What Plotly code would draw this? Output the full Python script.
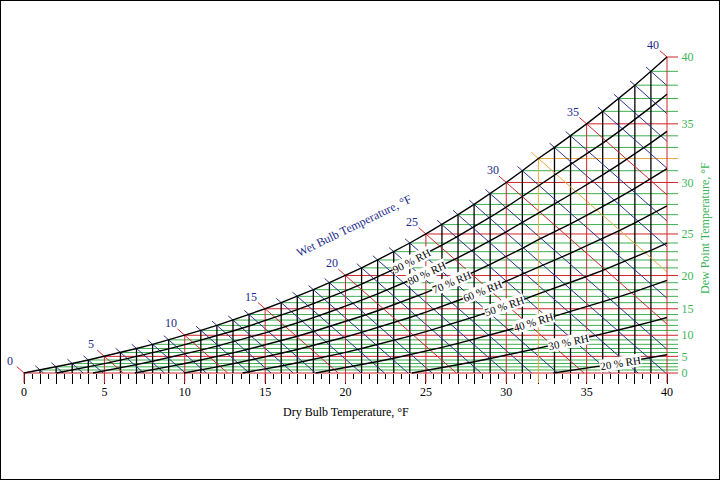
import numpy as np
import plotly.graph_objects as go

# saturation humidity ratio (lb water / lb dry air) for each whole degree F,
# read off the dew point scale on the right (0 F at the bottom line, 40 F at the top)
dew_point_f = list(range(0, 41))
sat_humidity = [
    0.000784, 0.000826, 0.000870, 0.000917, 0.000965, 0.001016, 0.001070, 0.001126,
    0.001184, 0.001246, 0.001310, 0.001378, 0.001448, 0.001522, 0.001599, 0.001680,
    0.001765, 0.001853, 0.001946, 0.002043, 0.002144, 0.002250, 0.002360, 0.002476,
    0.002597, 0.002723, 0.002854, 0.002992, 0.003135, 0.003285, 0.003441, 0.003605,
    0.003775, 0.003930, 0.004092, 0.004259, 0.004433, 0.004612, 0.004798, 0.004991,
    0.005191,
]

dry_bulb_labels = [0, 5, 10, 15, 20, 25, 30, 35, 40]
wet_bulb_labels = [0, 5, 10, 15, 20, 25, 30, 35, 40]
dew_point_labels = [0, 5, 10, 15, 20, 25, 30, 35, 40]
rh_levels = [90, 80, 70, 60, 50, 40, 30, 20]
rh_label_x = [24.1, 25.05, 26.6, 28.5, 29.9, 31.7, 33.85, 37.1]

FONT = "Liberation Serif, Times New Roman, serif"
RED = "#d0262b"
ORANGE = "#e9a945"
GREEN = "#3bb04f"
BLUE = "#2a3590"
NAVY = "#1c2a8c"
LABEL_GREEN = "#3cb458"

W_MIN, W_MAX = sat_humidity[0], sat_humidity[-1]

# page geometry: 0..40 F spans px 24..667, W_MIN..W_MAX spans px 373..57
sx = 643 / 40.0
sy = 316 / (W_MAX - W_MIN)
x_range = [-24 / sx, 696 / sx]
y_range = [W_MIN - 107 / sy, W_MAX + 57 / sy]


def pick(v, default):
    if v == 32:
        return ORANGE
    if v % 5 == 0:
        return RED
    return default


def wet_bulb_w(wb, t):
    # humidity ratio along a constant wet bulb line (ASHRAE, IP units, ice form)
    ws = sat_humidity[wb]
    return ((1220 - 0.04 * wb) * ws - 0.240 * (t - wb)) / (1220 + 0.444 * t - 0.48 * wb)


def wet_bulb_end(wb):
    ws = sat_humidity[wb]
    t = ((1220 - 0.04 * wb) * ws + 0.24 * wb - W_MIN * (1220 - 0.48 * wb)) / (0.24 + 0.444 * W_MIN)
    return max(wb, min(t, 40))


groups = {}


def seg(key, xs, ys):
    g = groups.setdefault(key, ([], []))
    g[0].extend(list(xs) + [None])
    g[1].extend(list(ys) + [None])


right_ext = 40 + 11 / sx
tick_drop = W_MIN - 10 / sy

# dew point lines (horizontal)
for d in dew_point_f:
    seg(("dp", pick(d, GREEN)), [d, right_ext], [sat_humidity[d], sat_humidity[d]])

# dry bulb lines (vertical)
for t in dew_point_f:
    c = pick(t, "black")
    if c == "black":
        seg(("db", c), [t, t], [W_MIN, sat_humidity[t]])
    else:
        seg(("db2", c), [t, t], [tick_drop, sat_humidity[t]])

# wet bulb lines (diagonal)
for wb in dew_point_f:
    c = pick(wb, BLUE)
    stub = 0.3 if c == BLUE else 0.45
    t0, t1 = wb - stub, wet_bulb_end(wb)
    seg(("wb", c), [t0, t1], [wet_bulb_w(wb, t0), wet_bulb_w(wb, t1)])

fig = go.Figure()

order = [("dp", GREEN), ("dp", ORANGE), ("dp", RED), ("db", "black"),
         ("wb", BLUE), ("wb", ORANGE), ("wb", RED), ("db2", ORANGE), ("db2", RED)]
for key in order:
    if key not in groups:
        continue
    xs, ys = groups[key]
    width = 1.3 if key[1] == "black" else 1.0
    fig.add_trace(go.Scatter(x=xs, y=ys, mode="lines", hoverinfo="skip",
                             line=dict(color=key[1], width=width)))

# relative humidity curves
sat = np.array(sat_humidity)
for rh in rh_levels:
    w = sat * rh / 100.0
    i = int(np.argmax(w >= W_MIN))
    t0 = i - 1 + (W_MIN - w[i - 1]) / (w[i] - w[i - 1])
    fig.add_trace(go.Scatter(x=[t0] + dew_point_f[i:], y=[W_MIN] + list(w[i:]),
                             mode="lines", hoverinfo="skip",
                             line=dict(color="black", width=1.4)))

# saturation curve
fig.add_trace(go.Scatter(x=dew_point_f, y=sat_humidity, mode="lines", hoverinfo="skip",
                         line=dict(color="black", width=1.4)))

annotations = []
for rh, lx in zip(rh_levels, rh_label_x):
    i = int(lx)
    ly = rh / 100.0 * np.interp(lx, dew_point_f, sat_humidity)
    slope = rh / 100.0 * (sat_humidity[i + 1] - sat_humidity[i])
    ang = -np.degrees(np.arctan(slope * sy / sx))
    annotations.append(dict(x=lx, y=ly, text=f"{rh} % RH", showarrow=False, textangle=ang,
                            bgcolor="white", borderpad=0,
                            font=dict(family=FONT, size=11, color="black")))

for wb in wet_bulb_labels:
    lx = wb - 0.85
    annotations.append(dict(x=lx, y=wet_bulb_w(wb, lx), text=str(wb), showarrow=False,
                            font=dict(family=FONT, size=12, color=NAVY)))

annotations += [
    dict(x=20, y=1 - 412 / 480, yref="paper", xanchor="center", yanchor="middle",
         text="Dry Bulb Temperature, °F", showarrow=False,
         font=dict(family=FONT, size=12, color="black")),
    dict(x=20.5, y=1 - 226 / 480, yref="paper", xanchor="center", yanchor="middle",
         text="Wet Bulb Temperature, °F", showarrow=False,
         textangle=-26, font=dict(family=FONT, size=12, color=NAVY)),
    dict(x=705 / 720, y=1 - 228 / 480, xref="paper", yref="paper", xanchor="center",
         yanchor="middle", text="Dew Point Temperature, °F",
         showarrow=False, textangle=-90, font=dict(family=FONT, size=12, color=LABEL_GREEN)),
]

fig.update_layout(
    width=720, height=480,
    margin=dict(l=0, r=0, t=0, b=0, pad=0),
    paper_bgcolor="white", plot_bgcolor="white",
    showlegend=False,
    annotations=annotations,
    shapes=[dict(type="rect", xref="paper", yref="paper", x0=0, y0=0, x1=1, y1=1,
                 line=dict(color="black", width=2))],
    xaxis=dict(range=x_range, anchor="free", position=107 / 480, showgrid=False,
               zeroline=False, showline=False, automargin=False, layer="below traces",
               tickmode="array", tickvals=dew_point_f,
               ticktext=[str(v) if v in dry_bulb_labels else "" for v in dew_point_f],
               ticks="outside", ticklen=10, tickwidth=1.3, tickcolor="black",
               ticklabelstandoff=-2,
               minor=dict(tickmode="array", tickvals=[v + 0.5 for v in range(40)],
                          ticks="outside", ticklen=5, tickwidth=1.2, tickcolor="black"),
               tickfont=dict(family=FONT, size=12, color="black")),
    yaxis=dict(range=y_range, side="right", anchor="free", position=667 / 720,
               showgrid=False, zeroline=False, showline=False, automargin=False,
               tickmode="array", tickvals=[sat_humidity[d] for d in dew_point_labels],
               ticktext=[str(d) for d in dew_point_labels],
               ticks="outside", ticklen=11, tickcolor="rgba(0,0,0,0)",
               tickfont=dict(family=FONT, size=12, color=LABEL_GREEN)),
)

fig.write_html("out.html", config={"displayModeBar": False},
               post_script="document.body.style.margin='0';document.body.style.overflow='hidden';")
